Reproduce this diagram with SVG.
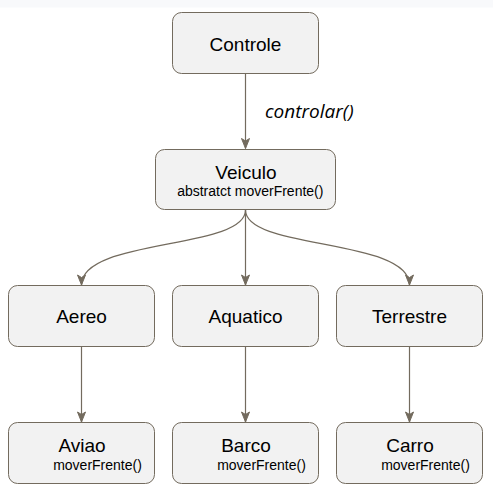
<svg xmlns="http://www.w3.org/2000/svg" width="493" height="499" viewBox="0 0 493 499">
<style>
.box{fill:#f2f2f2;stroke:#736b5e;stroke-width:1}
.edge{fill:none;stroke:#736b5e;stroke-width:1.2}
.t{font-family:"Liberation Sans",Arial,sans-serif;font-size:19px;fill:#000;text-anchor:middle}
.s{font-family:"Liberation Sans",Arial,sans-serif;font-size:14px;fill:#000;text-anchor:middle}
.lbl{font-family:"Open Sans","Noto Sans",sans-serif;font-style:italic;font-size:19px;fill:#000}
</style>
<defs>
<marker id="arr" markerUnits="userSpaceOnUse" markerWidth="12" markerHeight="10" viewBox="0 0 12 10" refX="11" refY="5" orient="auto">
<path d="M1,1 L11,5 L1,9 L3.5,5 Z" fill="#736b5e" stroke="#736b5e" stroke-width="1"/>
</marker>
</defs>
<rect x="0" y="0" width="493" height="7.5" fill="#f8f9fb"/>
<g id="connectors">
<path class="edge" d="M245.5,73.5 L245.5,148.5" marker-end="url(#arr)"/>
<path class="edge" d="M245.5,210 C245.5,250 81.5,238 81.5,285" marker-end="url(#arr)"/>
<path class="edge" d="M245.5,210 L245.5,285" marker-end="url(#arr)"/>
<path class="edge" d="M245.5,210 C245.5,250 409.5,238 409.5,285" marker-end="url(#arr)"/>
<path class="edge" d="M81.5,346.5 L81.5,422" marker-end="url(#arr)"/>
<path class="edge" d="M245.5,346.5 L245.5,422" marker-end="url(#arr)"/>
<path class="edge" d="M409.5,346.5 L409.5,422" marker-end="url(#arr)"/>
<text class="lbl" x="265" y="118">controlar()</text>
</g>
<g id="controle">
<rect class="box" x="172.5" y="12.5" width="146" height="61" rx="9"/>
<text class="t" x="245.5" y="51">Controle</text>
</g>
<g id="veiculo">
<rect class="box" x="155.5" y="149.5" width="180" height="60" rx="9"/>
<text class="t" x="246" y="179">Veiculo</text>
<text class="s" x="250.3" y="196">abstratct moverFrente()</text>
</g>
<g id="aereo">
<rect class="box" x="8.5" y="285.5" width="146" height="61" rx="9"/>
<text class="t" x="81.5" y="323">Aereo</text>
</g>
<g id="aquatico">
<rect class="box" x="172.5" y="285.5" width="146" height="61" rx="9"/>
<text class="t" x="245.5" y="323">Aquatico</text>
</g>
<g id="terrestre">
<rect class="box" x="336.5" y="285.5" width="146" height="61" rx="9"/>
<text class="t" x="409.5" y="323">Terrestre</text>
</g>
<g id="aviao">
<rect class="box" x="8.5" y="422.5" width="146" height="61" rx="9"/>
<text class="t" x="82" y="452">Aviao</text>
<text class="s" x="97.5" y="469.5">moverFrente()</text>
</g>
<g id="barco">
<rect class="box" x="172.5" y="422.5" width="146" height="61" rx="9"/>
<text class="t" x="246" y="452">Barco</text>
<text class="s" x="261.5" y="469.5">moverFrente()</text>
</g>
<g id="carro">
<rect class="box" x="336.5" y="422.5" width="146" height="61" rx="9"/>
<text class="t" x="410" y="452">Carro</text>
<text class="s" x="425.5" y="469.5">moverFrente()</text>
</g>
</svg>
